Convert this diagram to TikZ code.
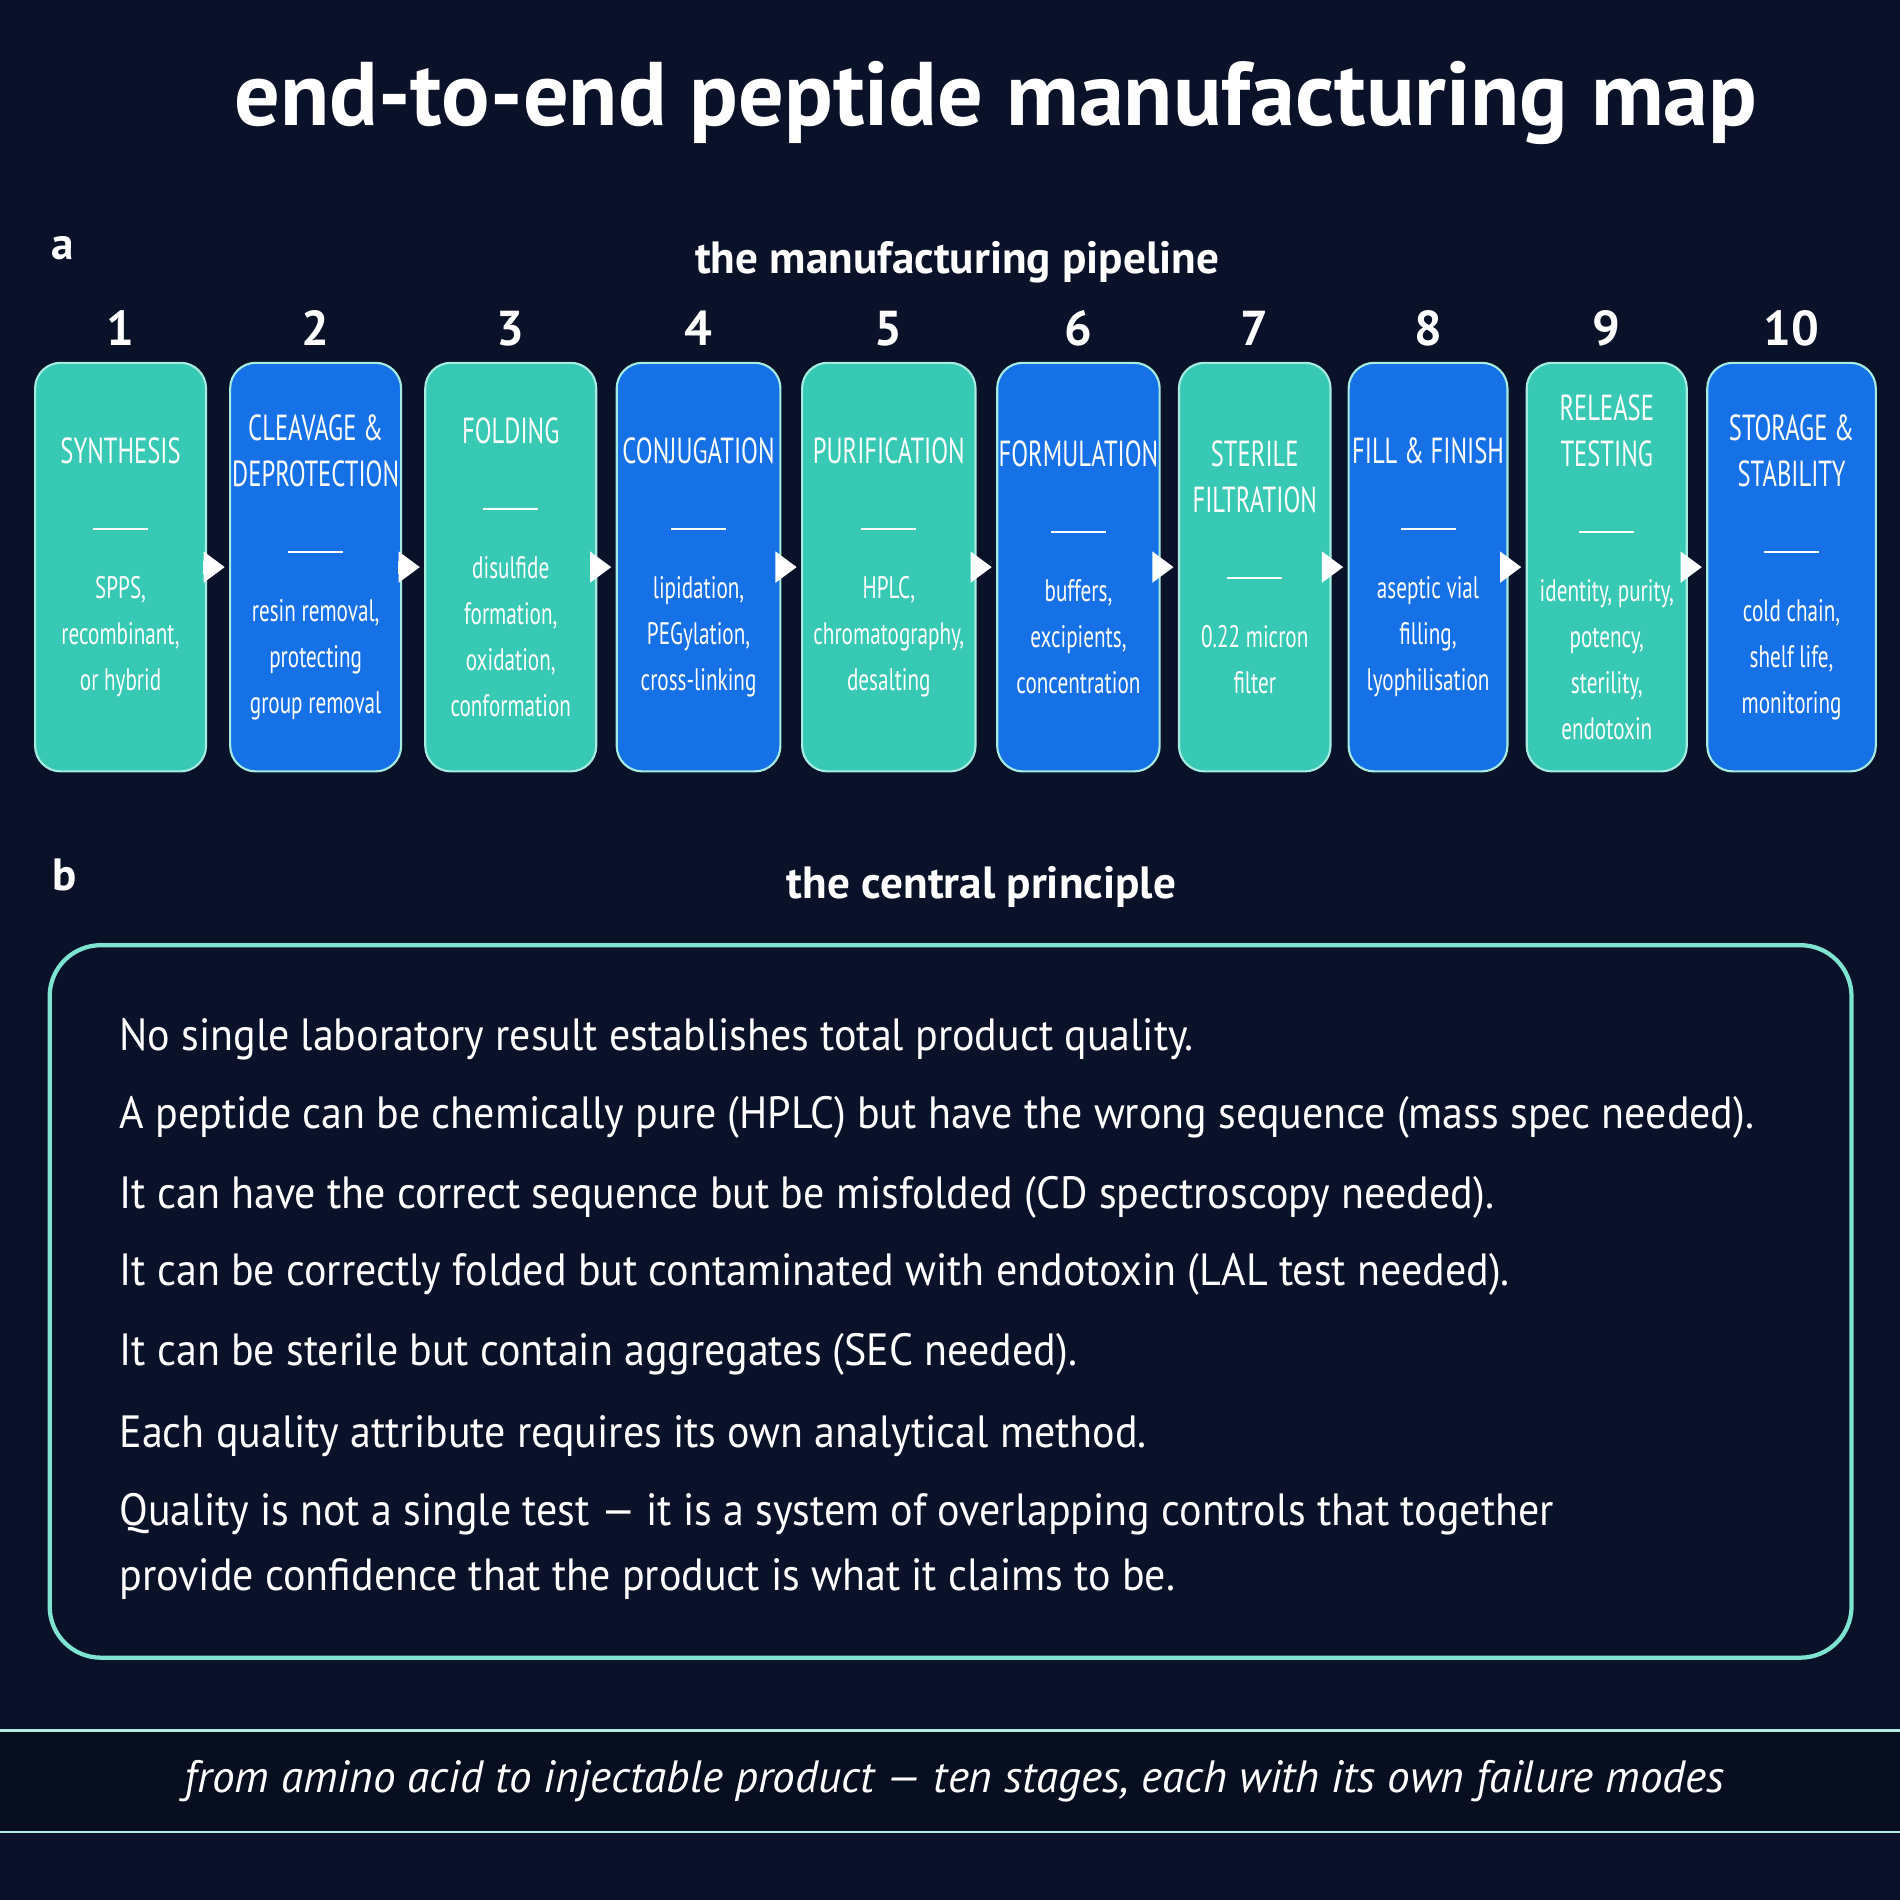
\documentclass[tikz,border=0pt]{standalone}
\usepackage{fontspec}
\setmainfont{PT Sans}
\usetikzlibrary{positioning,arrows.meta}
\definecolor{bgnavy}{HTML}{0A1229}
\definecolor{bandnavy}{HTML}{070E20}
\definecolor{stageteal}{HTML}{38C9B4}
\definecolor{stageblue}{HTML}{1670E6}
\definecolor{edgeteal}{HTML}{7FE3D2}
\newcommand{\stagehead}{\fontsize{8.5}{9.2}\selectfont}
\newcommand{\stagedash}{\rule[0.3ex]{2.6em}{0.5pt}}
\tikzset{
  stage/.style={draw=edgeteal!70, line width=0.5pt, rounded corners=6pt, minimum height=3.37cm, inner sep=0pt},
  stagelabel/.style={text=white, align=center, inner sep=0pt, xscale=0.68, transform shape,
    font=\fontsize{7.3}{10.8}\selectfont},
  stepnum/.style={text=white, font=\bfseries\fontsize{11.5}{14}\selectfont},
  flow/.style={-{Triangle[length=5pt,width=7pt]}, white, line width=3pt, shorten >=1pt, shorten <=1pt},
  principle/.style={text=white, anchor=west, inner sep=0pt, xscale=0.93, transform shape,
    font=\fontsize{10.6}{13}\selectfont},
  heading/.style={text=white, font=\bfseries\fontsize{10.6}{13}\selectfont}
}
\begin{document}
\begin{tikzpicture}[x=0.01cm,y=-0.01cm]
\fill[bgnavy] (0,0) rectangle (1568,1568);
\useasboundingbox (0,0) rectangle (1568,1568);

\node[text=white, font=\bfseries\fontsize{21.2}{25}\selectfont] (title) at (822,85) {end-to-end peptide manufacturing map};

% panel a
\node[heading] (lbla) at (52,205) {a};
\node[heading] (heada) at (790,216) {the manufacturing pipeline};

\foreach \n/\xa/\xb/\col/\txt in {
  1/29/170/stageteal/{\stagehead SYNTHESIS\\[6pt]\stagedash\\[4pt]SPPS,\\recombinant,\\or hybrid},
  2/190/331/stageblue/{\stagehead CLEAVAGE \&\\\stagehead DEPROTECTION\\[6pt]\stagedash\\[4pt]resin removal,\\protecting\\group removal},
  3/351/492/stageteal/{\stagehead FOLDING\\[6pt]\stagedash\\[4pt]disulfide\\formation,\\oxidation,\\conformation},
  4/509/644/stageblue/{\stagehead CONJUGATION\\[6pt]\stagedash\\[4pt]lipidation,\\PEGylation,\\cross-linking},
  5/662/805/stageteal/{\stagehead PURIFICATION\\[6pt]\stagedash\\[4pt]HPLC,\\chromatography,\\desalting},
  6/823/957/stageblue/{\stagehead FORMULATION\\[6pt]\stagedash\\[4pt]buffers,\\excipients,\\concentration},
  7/973/1098/stageteal/{\stagehead STERILE\\\stagehead FILTRATION\\[6pt]\stagedash\\[4pt]0.22 micron\\filter},
  8/1113/1244/stageblue/{\stagehead FILL \& FINISH\\[6pt]\stagedash\\[4pt]aseptic vial\\filling,\\lyophilisation},
  9/1260/1392/stageteal/{\stagehead RELEASE\\\stagehead TESTING\\[6pt]\stagedash\\[4pt]identity, purity,\\potency,\\sterility,\\endotoxin},
  10/1409/1548/stageblue/{\stagehead STORAGE \&\\\stagehead STABILITY\\[6pt]\stagedash\\[4pt]cold chain,\\shelf life,\\monitoring}}
{
  \pgfmathsetmacro{\boxw}{(\xb-\xa)/100}
  \node[stage, fill=\col, minimum width=\boxw cm] (s\n) at ({(\xa+\xb)/2},468) {};
  \node[stagelabel] (t\n) at (s\n.center) {\txt};
  \node[stepnum] (num\n) at ({(\xa+\xb)/2},271) {\n};
}
\foreach \i [evaluate=\i as \j using int(\i+1)] in {1,...,9}
  \draw[flow] (s\i.east) -- (s\j.west);

% panel b
\node[heading] (lblb) at (53,722) {b};
\node[heading] (headb) at (810,732) {the central principle};
\draw[edgeteal, line width=1pt, rounded corners=12pt] (41,780) rectangle (1528,1368);

\node[principle] (p1) at (98,858) {No single laboratory result establishes total product quality.};
\node[principle] (p2) at (98,922) {A peptide can be chemically pure (HPLC) but have the wrong sequence (mass spec needed).};
\node[principle] (p3) at (98,988) {It can have the correct sequence but be misfolded (CD spectroscopy needed).};
\node[principle] (p4) at (98,1052) {It can be correctly folded but contaminated with endotoxin (LAL test needed).};
\node[principle] (p5) at (98,1118) {It can be sterile but contain aggregates (SEC needed).};
\node[principle] (p6) at (98,1185) {Each quality attribute requires its own analytical method.};
\node[principle] (p7) at (98,1250) {Quality is not a single test \textemdash\ it is a system of overlapping controls that together};
\node[principle] (p8) at (98,1303) {provide confidence that the product is what it claims to be.};

% footer band
\fill[bandnavy] (0,1428) rectangle (1568,1512);
\draw[edgeteal!60, line width=0.6pt] (0,1428) -- (1568,1428) (0,1512) -- (1568,1512);
\node[text=white, font=\itshape\fontsize{10.6}{13}\selectfont] (foot) at (788,1470) {from amino acid to injectable product \textemdash\ ten stages, each with its own failure modes};
\end{tikzpicture}
\end{document}
